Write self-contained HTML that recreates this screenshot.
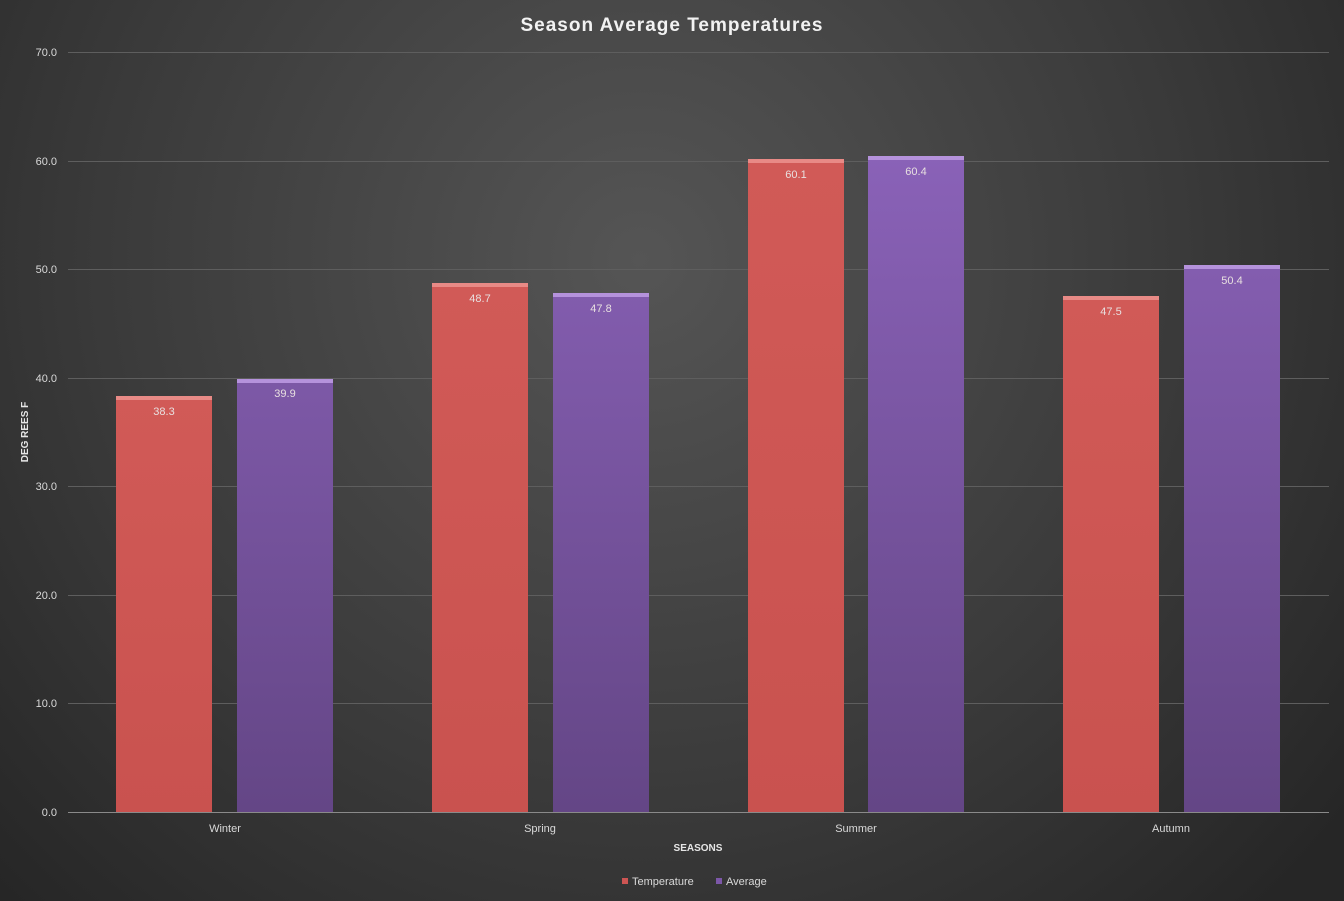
<!DOCTYPE html>
<html><head><meta charset="utf-8"><style>
html,body{margin:0;padding:0;background:#333;}
svg{display:block;font-family:"Liberation Sans",sans-serif;}
</style></head><body>
<svg width="1344" height="901" viewBox="0 0 1344 901" xmlns="http://www.w3.org/2000/svg">
<defs>
<radialGradient id="bg" cx="640" cy="260" r="900" gradientUnits="userSpaceOnUse">
<stop offset="0" stop-color="#555555"/><stop offset="0.6" stop-color="#3a3a3a"/><stop offset="1" stop-color="#262626"/>
</radialGradient>
<linearGradient id="red" x1="0" y1="0" x2="0" y2="1"><stop offset="0" stop-color="#d15a57"/><stop offset="1" stop-color="#c9524f"/></linearGradient>
<linearGradient id="pur" gradientUnits="userSpaceOnUse" x1="0" y1="150" x2="0" y2="812"><stop offset="0" stop-color="#8a62b8"/><stop offset="1" stop-color="#644686"/></linearGradient>
</defs>
<rect width="1344" height="901" fill="url(#bg)"/>
<text x="672" y="31" text-anchor="middle" font-size="19" font-weight="bold" fill="#f2f2f2" letter-spacing="1">Season Average Temperatures</text>
<g stroke="#5e5e5e" stroke-width="1">
<line x1="68" x2="1329" y1="52.5" y2="52.5"/><line x1="68" x2="1329" y1="161.5" y2="161.5"/>
<line x1="68" x2="1329" y1="269.5" y2="269.5"/><line x1="68" x2="1329" y1="378.5" y2="378.5"/>
<line x1="68" x2="1329" y1="486.5" y2="486.5"/><line x1="68" x2="1329" y1="595.5" y2="595.5"/>
<line x1="68" x2="1329" y1="703.5" y2="703.5"/>
</g>
<g font-size="11" fill="#d9d9d9" text-anchor="end">
<text x="57" y="56">70.0</text><text x="57" y="165">60.0</text><text x="57" y="273">50.0</text>
<text x="57" y="382">40.0</text><text x="57" y="490">30.0</text><text x="57" y="599">20.0</text>
<text x="57" y="707">10.0</text><text x="57" y="816">0.0</text>
</g>
<text transform="translate(28,432) rotate(-90)" text-anchor="middle" font-size="10" font-weight="bold" fill="#e6e6e6">DEG REES F</text>
<g>
<!-- bars: x, y -->
<rect x="116" y="396" width="96" height="416" fill="url(#red)"/><rect x="116" y="396" width="96" height="4" fill="#e88a86"/>
<rect x="237" y="379" width="96" height="433" fill="url(#pur)"/><rect x="237" y="379" width="96" height="4" fill="#b592dc"/>
<rect x="432" y="283" width="96" height="529" fill="url(#red)"/><rect x="432" y="283" width="96" height="4" fill="#e88a86"/>
<rect x="553" y="293" width="96" height="519" fill="url(#pur)"/><rect x="553" y="293" width="96" height="4" fill="#b592dc"/>
<rect x="748" y="159" width="96" height="653" fill="url(#red)"/><rect x="748" y="159" width="96" height="4" fill="#e88a86"/>
<rect x="868" y="156" width="96" height="656" fill="url(#pur)"/><rect x="868" y="156" width="96" height="4" fill="#b592dc"/>
<rect x="1063" y="296" width="96" height="516" fill="url(#red)"/><rect x="1063" y="296" width="96" height="4" fill="#e88a86"/>
<rect x="1184" y="265" width="96" height="547" fill="url(#pur)"/><rect x="1184" y="265" width="96" height="4" fill="#b592dc"/>
</g>
<g font-size="11" fill="#e8e0e0" text-anchor="middle">
<text x="164" y="415">38.3</text><text x="285" y="397">39.9</text>
<text x="480" y="302">48.7</text><text x="601" y="312">47.8</text>
<text x="796" y="178">60.1</text><text x="916" y="175">60.4</text>
<text x="1111" y="315">47.5</text><text x="1232" y="284">50.4</text>
</g>
<line x1="68" x2="1329" y1="812.5" y2="812.5" stroke="#8a8a8a" stroke-width="1"/>
<g font-size="11" fill="#d9d9d9" text-anchor="middle">
<text x="225" y="832">Winter</text><text x="540" y="832">Spring</text>
<text x="856" y="832">Summer</text><text x="1171" y="832">Autumn</text>
</g>
<text x="698" y="851" text-anchor="middle" font-size="10" font-weight="bold" fill="#e6e6e6">SEASONS</text>
<rect x="622" y="878" width="6" height="6" fill="#cd5553"/>
<text x="632" y="885" font-size="11" fill="#d9d9d9">Temperature</text>
<rect x="716" y="878" width="6" height="6" fill="#7c57a8"/>
<text x="726" y="885" font-size="11" fill="#d9d9d9">Average</text>
</svg>
</body></html>
